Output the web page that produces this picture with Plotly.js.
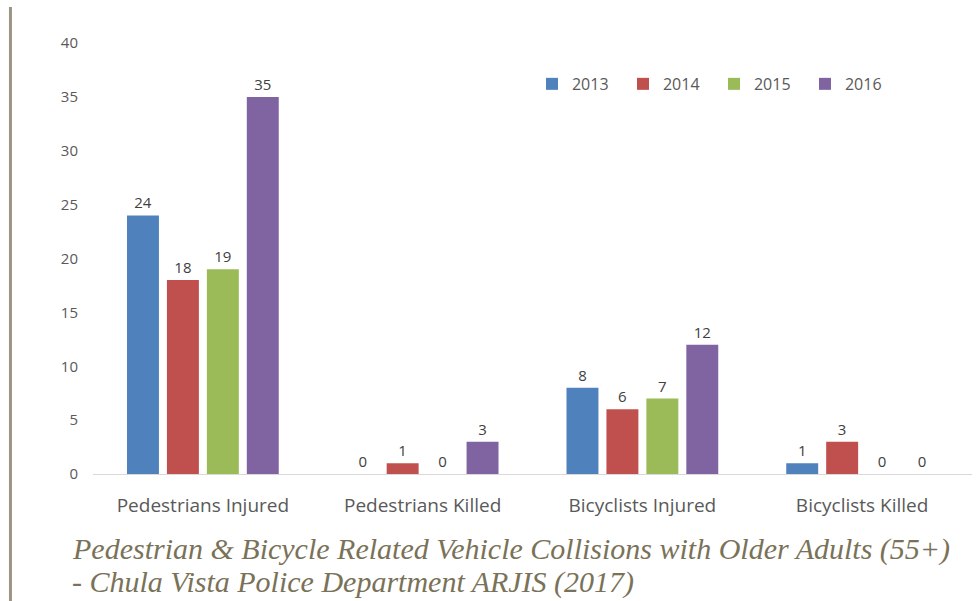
<!DOCTYPE html>
<html>
<head>
<meta charset="utf-8">
<script src="https://cdn.plot.ly/plotly-3.0.1.min.js"></script>
<style>html,body{margin:0;padding:0;background:#fff;}#chart{width:977px;height:601px;}</style>
</head>
<body>
<div id="chart"></div>
<script>
const categories = ["Pedestrians Injured", "Pedestrians Killed", "Bicyclists Injured", "Bicyclists Killed"];
const years = ["2013", "2014", "2015", "2016"];
const values2013 = [24, 0, 8, 1];
const values2014 = [18, 1, 6, 3];
const values2015 = [19, 0, 7, 0];
const values2016 = [35, 3, 12, 0];
const colors = ["#4f81bd", "#c0504d", "#9bbb59", "#8064a2"];
const yTicks = [0, 5, 10, 15, 20, 25, 30, 35, 40];
const captionLines = ["Pedestrian &amp; Bicycle Related Vehicle Collisions with Older Adults (55+)", "- Chula Vista Police Department ARJIS (2017)"];

const series = [values2013, values2014, values2015, values2016];
const traces = series.map((vals, i) => ({
  type: "bar",
  name: years[i],
  x: categories,
  y: vals,
  marker: {color: colors[i]},
  text: vals.map(String),
  textposition: "outside",
  cliponaxis: false,
  textfont: {family: "Open Sans, Liberation Sans, sans-serif", size: 15, color: "#404040"},
  hoverinfo: "x+y+name"
}));

const layout = {
  width: 977, height: 601,
  margin: {l: 93, r: 5, t: 43, b: 127, autoexpand: false},
  paper_bgcolor: "#ffffff",
  plot_bgcolor: "#ffffff",
  barmode: "group",
  bargap: 0.273,
  bargroupgap: 0.2,
  showlegend: true,
  legend: {
    orientation: "h", x: 0.4994, y: 0.905, xanchor: "left", yanchor: "middle",
    font: {family: "Open Sans, Liberation Sans, sans-serif", size: 16, color: "#595959"},
    itemwidth: 30, tracegroupgap: 0, bgcolor: "rgba(0,0,0,0)",
    entrywidth: 46, entrywidthmode: "pixels"
  },
  xaxis: {
    type: "category",
    showgrid: false, zeroline: false,
    showline: true, linecolor: "#d9d9d9", linewidth: 1,
    ticks: "", ticklen: 0, ticklabelstandoff: 14,
    tickfont: {family: "Open Sans, Liberation Sans, sans-serif", size: 19, color: "#595959"},
    automargin: false
  },
  yaxis: {
    range: [0, 40],
    tickvals: yTicks,
    ticktext: yTicks.map(String),
    showgrid: false, zeroline: false, showline: false,
    ticks: "", ticklabelstandoff: 14,
    tickfont: {family: "Open Sans, Liberation Sans, sans-serif", size: 15, color: "#595959"},
    automargin: false
  },
  shapes: [{
    type: "line", xref: "paper", yref: "paper",
    x0: -0.0939, x1: -0.0939, y0: 1.0835, y1: -0.30,
    line: {color: "#9c9586", width: 3}
  }],
  annotations: captionLines.map((t, i) => ({
    xref: "paper", yref: "paper",
    x: -0.0262, y: -0.173 - i * 0.078,
    xanchor: "left", yanchor: "middle",
    text: "<i>" + t + "</i>",
    showarrow: false,
    font: {family: "Liberation Serif, DejaVu Serif, serif", size: 30, color: "#7a7258"}
  }))
};

Plotly.newPlot("chart", traces, layout, {displayModeBar: false, staticPlot: true});
</script>
</body>
</html>
